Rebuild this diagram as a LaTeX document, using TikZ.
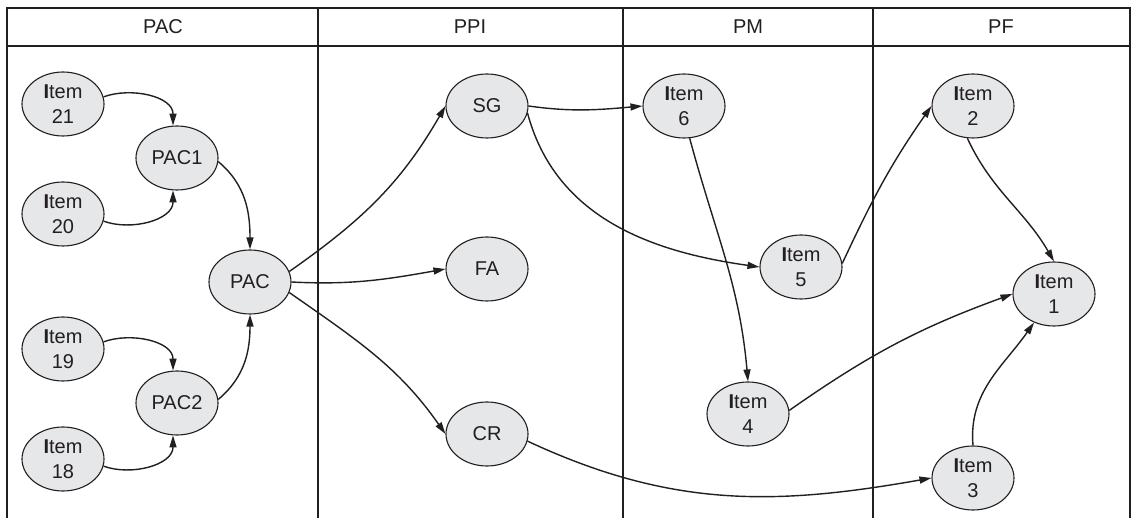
\documentclass[tikz,border=0pt]{standalone}
\usepackage{fontspec}
\setmainfont{Liberation Sans}
\usetikzlibrary{arrows.meta,shapes.geometric}
\definecolor{nodefill}{HTML}{E6E7E8}
\definecolor{ink}{HTML}{231F20}
\tikzset{
  every picture/.style={x=1pt,y=-1pt},
  bubble/.style={ellipse,draw=ink,line width=1.1pt,fill=nodefill,minimum width=82pt,minimum height=64pt,inner sep=0pt,align=center,font=\fontsize{20}{25.5}\selectfont,text=ink},
  frame/.style={draw=ink,line width=1.2pt},
  link/.style={draw=ink,line width=1.4pt,-{Triangle[length=12pt,width=7pt]}},
  head/.style={font=\fontsize{20}{24}\selectfont,text=ink}
}
\newcommand{\itm}[1]{\textbf{I}tem\\#1}
\begin{document}
\begin{tikzpicture}
\useasboundingbox (0,0) rectangle (1136,518);
% frame
\draw[frame] (7,518) -- (7,8) -- (1130,8) -- (1130,518);
\draw[frame] (7,46) -- (1130,46);
\draw[frame] (318,8) -- (318,518);
\draw[frame] (623,8) -- (623,518);
\draw[frame] (873,8) -- (873,518);
\node[head] (hpac) at (163,27) {PAC};
\node[head] (hppi) at (470,27) {PPI};
\node[head] (hpm) at (748,27) {PM};
\node[head] (hpf) at (1001,27) {PF};
% nodes
\node[bubble] (i21) at (63,104) {\itm{21}};
\node[bubble] (pac1) at (177,158) {PAC1};
\node[bubble] (i20) at (63,214) {\itm{20}};
\node[bubble] (pac) at (250,282) {PAC};
\node[bubble] (i19) at (63,349) {\itm{19}};
\node[bubble] (pac2) at (177,403) {PAC2};
\node[bubble] (i18) at (63,459) {\itm{18}};
\node[bubble] (sg) at (487,106) {SG};
\node[bubble] (fa) at (487,269) {FA};
\node[bubble] (cr) at (487,434) {CR};
\node[bubble] (i6) at (684,106) {\itm{6}};
\node[bubble] (i5) at (801,267) {\itm{5}};
\node[bubble] (i4) at (748,414) {\itm{4}};
\node[bubble] (i2) at (973,106) {\itm{2}};
\node[bubble] (i1) at (1054,294) {\itm{1}};
\node[bubble] (i3) at (973,478) {\itm{3}};
% edges
\draw[link] (i21.10) to[out=20,in=90] (pac1.97);
\draw[link] (i20.-10) to[out=-20,in=-90] (pac1.-97);
\draw[link] (pac1.-5) to[out=-40,in=90] (pac.north);
\draw[link] (i19.10) to[out=20,in=90] (pac2.97);
\draw[link] (i18.-10) to[out=-20,in=-90] (pac2.-97);
\draw[link] (pac2.5) to[out=40,in=-90] (pac.south);
\draw[link] (pac.15) to[out=35,in=-120] (sg.west);
\draw[link] (pac.0) to[out=-3,in=190] (fa.west);
\draw[link] (pac.-15) to[out=-35,in=125] (cr.west);
\draw[link] (sg.east) to[out=-8,in=185] (i6.west);
\draw[link] (sg.-10) to[out=-75,in=172] (i5.west);
\draw[link] (i6.-80) to[out=-75,in=95] (i4.north);
\draw[link] (i5.5) to[out=65,in=-125] (i2.west);
\draw[link] (i2.-100) to[out=-65,in=120] (i1.north);
\draw[link] (i4.5) to[out=35,in=200] (i1.west);
\draw[link] (i3.north) to[out=95,in=-125] (i1.-125);
\draw[link] (cr.-10) to[out=-25,in=190] (i3.west);
\end{tikzpicture}
\end{document}
